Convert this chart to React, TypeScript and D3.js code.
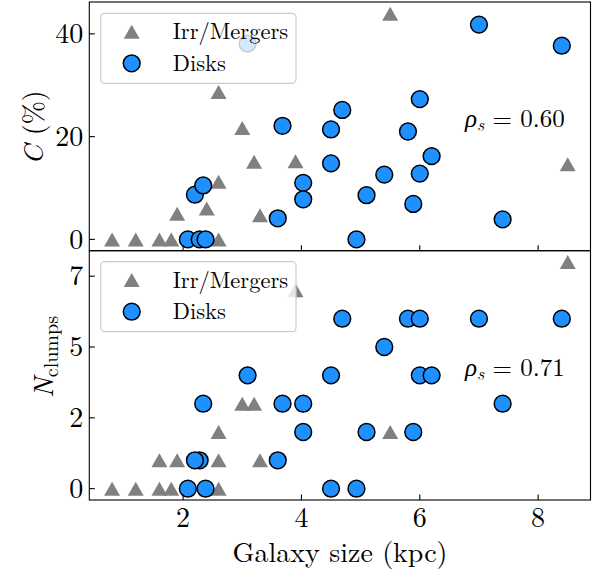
import React from "react";
import * as d3 from "d3";

// ---- data ----
const irrSizeTop = [0.8, 1.2, 1.6, 1.8, 2.6, 1.9, 2.4, 2.6, 2.6, 3.0, 3.2, 3.3, 3.9, 5.5, 8.5];
const irrCovering = [0, 0, 0, 0, 0, 5.0, 6.0, 11.2, 28.7, 21.7, 15.1, 4.7, 15.2, 43.9, 14.6];
const irrSizeBottom = [0.8, 1.2, 1.6, 1.8, 2.6, 1.6, 1.9, 2.6, 3.3, 2.6, 3.0, 3.2, 3.9, 5.5, 8.5];
const irrNclumps = [0, 0, 0, 0, 0, 1, 1, 1, 1, 2, 3, 3, 7, 2, 8];

const diskSize = [2.08, 2.28, 2.38, 2.2, 2.34, 3.09, 3.6, 3.68, 4.03, 4.03, 4.5, 4.5, 4.69, 4.93, 5.1, 5.4, 5.8, 5.89, 6.0, 6.0, 6.2, 7.0, 7.4, 8.4];
const diskCovering = [0, 0, 0, 8.7, 10.5, 38.1, 4.1, 22.1, 11.0, 7.8, 21.4, 14.8, 25.2, 0, 8.6, 12.6, 21.0, 6.9, 27.3, 12.8, 16.2, 41.8, 3.9, 37.7];
const diskNclumps = [0, 1, 0, 1, 3, 4, 1, 3, 3, 2, 4, 0, 6, 0, 2, 5, 6, 2, 6, 4, 4, 6, 3, 6];

const xTicks = [2, 4, 6, 8];
const topTicks = [0, 20, 40];
const bottomTicks = [0, 2.5, 5, 7.5];
const bottomTickLabels = ["0", "2", "5", "7"];
const legendLabels = ["Irr/Mergers", "Disks"];
const rhoTop = "0.60";
const rhoBottom = "0.71";

const FONT = "'Latin Modern Roman', 'CMU Serif', 'Liberation Serif', serif";
const GRAY = "#808080";
const BLUE = "#1E90FF";

const L = 89.3, R = 590.5, T1 = 2, MID = 250.7, B2 = 500;

const x = d3.scaleLinear().domain([0.415, 8.885]).range([L, R]);
const yTop = d3.scaleLinear().domain([-2.2, 46.2]).range([MID, T1]);
const yBot = d3.scaleLinear().domain([-0.4, 8.4]).range([B2, MID]);

const TW = 16, TH = 14;
const triPath = `M0,${-TH / 2}L${TW / 2},${TH / 2}L${-TW / 2},${TH / 2}Z`;

const txt = (size: number, extra: React.CSSProperties = {}): React.CSSProperties => ({ fontFamily: FONT, fontSize: size, ...extra });

function Triangle({ cx, cy }: { cx: number; cy: number }) {
  return <path d={triPath} transform={`translate(${cx},${cy})`} fill={GRAY} />;
}
function Disk({ cx, cy }: { cx: number; cy: number }) {
  return <circle cx={cx} cy={cy} r={8.4} fill={BLUE} stroke="#000" strokeWidth={1.5} />;
}

function Legend({ top }: { top: number }) {
  return (
    <g>
      <rect x={100.7} y={top} width={195.3} height={70} rx={4} fill="#fff" fillOpacity={0.8} stroke="#cccccc" strokeWidth={1.2} />
      <Triangle cx={131.7} cy={top + 18.4} />
      <text x={172.7} y={top + 26} style={txt(22.5)}>{legendLabels[0]}</text>
      <Disk cx={131.7} cy={top + 50} />
      <text x={172.7} y={top + 57.7} style={txt(22.5)}>{legendLabels[1]}</text>
    </g>
  );
}

function Rho({ xPos, yBase, val }: { xPos: number; yBase: number; val: string }) {
  return (
    <text x={xPos} y={yBase} style={txt(25)}>
      <tspan style={{ fontStyle: "italic" }}>ρ</tspan>
      <tspan style={{ fontStyle: "italic", fontSize: 17.5 }} dy={4}>s</tspan>
      <tspan dy={-4}>{" = " + val}</tspan>
    </text>
  );
}

export default function App() {
  return (
    <svg width={600} height={577} style={{ position: "absolute", left: 0, top: 0, background: "#fff" }}>
      <rect width={600} height={577} fill="#fff" />
      <g>
        {irrSizeTop.map((s, i) => <Triangle key={"ti" + i} cx={x(s)} cy={yTop(irrCovering[i])} />)}
        {diskSize.map((s, i) => <Disk key={"td" + i} cx={x(s)} cy={yTop(diskCovering[i])} />)}
      </g>
      <g>
        {irrSizeBottom.map((s, i) => <Triangle key={"bi" + i} cx={x(s)} cy={yBot(irrNclumps[i])} />)}
        {diskSize.map((s, i) => <Disk key={"bd" + i} cx={x(s)} cy={yBot(diskNclumps[i])} />)}
      </g>
      <Legend top={13.3} />
      <Legend top={261.7} />
      <Rho xPos={465} yBase={126.7} val={rhoTop} />
      <Rho xPos={465} yBase={375.7} val={rhoBottom} />

      <rect x={L} y={T1} width={R - L} height={MID - T1} fill="none" stroke="#000" strokeWidth={1.1} />
      <rect x={L} y={MID} width={R - L} height={B2 - MID} fill="none" stroke="#000" strokeWidth={1.1} />

      {xTicks.map((t) => (
        <g key={"xt" + t}>
          <line x1={x(t)} x2={x(t)} y1={MID} y2={MID - 5.5} stroke="#000" strokeWidth={1.1} />
          <line x1={x(t)} x2={x(t)} y1={B2} y2={B2 - 5.5} stroke="#000" strokeWidth={1.1} />
          <text x={x(t)} y={526.5} textAnchor="middle" style={txt(28)}>{t}</text>
        </g>
      ))}
      {topTicks.map((t) => (
        <g key={"yt" + t}>
          <line x1={L} x2={L + 5.5} y1={yTop(t)} y2={yTop(t)} stroke="#000" strokeWidth={1.1} />
          <text x={83.3} y={yTop(t) + 9.3} textAnchor="end" style={txt(28)}>{t}</text>
        </g>
      ))}
      {bottomTicks.map((t, i) => (
        <g key={"yb" + t}>
          <line x1={L} x2={L + 5.5} y1={yBot(t)} y2={yBot(t)} stroke="#000" strokeWidth={1.1} />
          <text x={83.3} y={yBot(t) + 9.3} textAnchor="end" style={txt(28)}>{bottomTickLabels[i]}</text>
        </g>
      ))}

      <text x={340} y={562} textAnchor="middle" style={txt(28)}>Galaxy size (kpc)</text>
      <text transform="translate(43,127.5) rotate(-90)" textAnchor="middle" style={txt(28)}>
        <tspan style={{ fontStyle: "italic" }}>C</tspan>
        <tspan>{" (%)"}</tspan>
      </text>
      <text transform="translate(53,357) rotate(-90)" textAnchor="middle" style={txt(28)}>
        <tspan style={{ fontStyle: "italic" }}>N</tspan>
        <tspan style={{ fontSize: 20 }} dy={5}>clumps</tspan>
      </text>
    </svg>
  );
}
